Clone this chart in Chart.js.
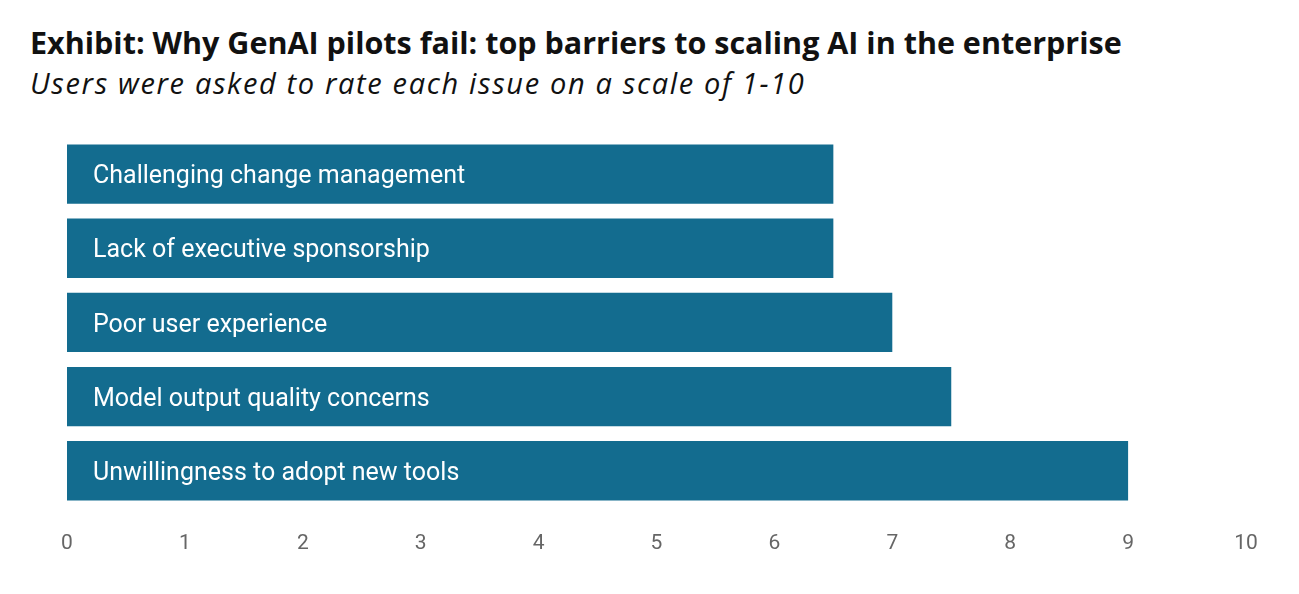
<!DOCTYPE html>
<html lang="en">
<head>
    <meta charset="UTF-8">
    <title>Why GenAI pilots fail</title>
    <script src="https://cdn.jsdelivr.net/npm/chart.js"></script>
    <style>
        body { margin: 0; background: #ffffff; width: 1299px; height: 594px; overflow: hidden; position: relative; }
        .title { position: absolute; left: 30px; top: 21px; font-family: "Open Sans", sans-serif; font-weight: 700; font-size: 30.5px; color: #111; white-space: nowrap; }
        .subtitle { position: absolute; left: 30px; top: 63px; font-family: "Open Sans", sans-serif; font-style: italic; font-size: 29px; letter-spacing: 1.65px; color: #111; white-space: nowrap; }
        .chart-box { position: absolute; left: 0; top: 110px; width: 1299px; height: 484px; }
    </style>
</head>
<body>
    <div class="title">Exhibit: Why GenAI pilots fail: top barriers to scaling AI in the enterprise</div>
    <div class="subtitle">Users were asked to rate each issue on a scale of 1-10</div>
    <div class="chart-box"><canvas id="barrierChart"></canvas></div>

    <script>
        const barriers = [
            'Challenging change management',
            'Lack of executive sponsorship',
            'Poor user experience',
            'Model output quality concerns',
            'Unwillingness to adopt new tools'
        ];
        const ratings = [6.5, 6.5, 7, 7.5, 9];
        const scaleTicks = [0, 1, 2, 3, 4, 5, 6, 7, 8, 9, 10];

        // write each barrier name inside its bar
        const barLabels = {
            id: 'barLabels',
            afterDatasetsDraw(chart) {
                const ctx = chart.ctx;
                const meta = chart.getDatasetMeta(0);
                ctx.save();
                ctx.fillStyle = '#ffffff';
                ctx.font = '25px Roboto, sans-serif';
                ctx.textBaseline = 'middle';
                meta.data.forEach((bar, i) => {
                    ctx.fillText(chart.data.labels[i], bar.base + 26, bar.y + 3);
                });
                ctx.restore();
            }
        };

        const ctx = document.getElementById('barrierChart').getContext('2d');
        new Chart(ctx, {
            type: 'bar',
            data: {
                labels: barriers,
                datasets: [{
                    data: ratings,
                    backgroundColor: '#136c8f',
                    barPercentage: 0.8,
                    categoryPercentage: 1.0
                }]
            },
            options: {
                indexAxis: 'y',
                responsive: true,
                maintainAspectRatio: false,
                animation: false,
                layout: { padding: { left: 67, right: 53, top: 27, bottom: 23 } },
                plugins: {
                    legend: { display: false },
                    tooltip: { enabled: false }
                },
                scales: {
                    x: {
                        min: scaleTicks[0],
                        max: scaleTicks[scaleTicks.length - 1],
                        afterBuildTicks(axis) {
                            axis.ticks = scaleTicks.map(v => ({ value: v }));
                        },
                        grid: { display: false },
                        border: { display: false },
                        ticks: {
                            color: '#666666',
                            padding: 15,
                            font: { family: 'Roboto, sans-serif', size: 21 }
                        }
                    },
                    y: { display: false }
                }
            },
            plugins: [barLabels]
        });
    </script>
</body>
</html>
